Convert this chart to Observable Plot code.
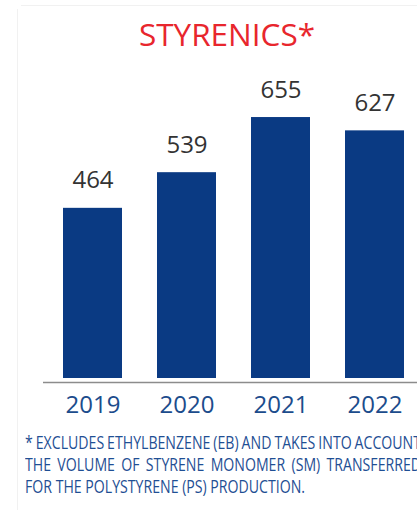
<!DOCTYPE html>
<html>
<head>
<meta charset="utf-8">
<script src="https://cdn.jsdelivr.net/npm/d3@7"></script>
<script src="https://cdn.jsdelivr.net/npm/@observablehq/plot@0.6"></script>
<style>
  html, body { margin: 0; padding: 0; background: #fff; }
  #wrap { position: relative; width: 417px; height: 510px; overflow: hidden; font-family: "Open Sans", sans-serif; }
  #bl { position: absolute; left: 17px; top: 9px; width: 1px; height: 501px; background: #f1f1f1; }
  #bt { position: absolute; left: 21px; top: 5px; width: 396px; height: 1px; background: #f1f1f1; }
  #title { position: absolute; left: 0; width: 454px; top: 18px; text-align: center; font-size: 31.5px; line-height: 1; color: #e8262d; white-space: nowrap; }
  #chart { position: absolute; left: 0; top: 0; }
  #note { position: absolute; left: 25px; top: 431px; font-size: 17.5px; line-height: 22px; color: #1f4f94; transform-origin: 0 0; }
  #note div { white-space: nowrap; }
  #note span { white-space: nowrap; display: inline-block; }
</style>
</head>
<body>
<div id="wrap">
  <div id="bl"></div><div id="bt"></div>
  <div id="chart"></div>
  <div id="title"></div>
  <div id="note"></div>
</div>
<script>
const title = "STYRENICS*";
const years = ["2019", "2020", "2021", "2022"];
const values = [464, 539, 655, 627];
const noteLines = [
  "* EXCLUDES ETHYLBENZENE (EB) AND TAKES INTO ACCOUNT",
  "THE VOLUME OF STYRENE MONOMER (SM) TRANSFERRED",
  "FOR THE POLYSTYRENE (PS) PRODUCTION."
];
const yBase = 106;
const yTop = 775;

const data = years.map((year, i) => ({year, value: values[i]}));

document.getElementById("title").textContent = title;

const chart = Plot.plot({
  width: 417,
  height: 420,
  marginTop: 60,
  marginBottom: 42,
  marginLeft: 43,
  marginRight: 0,
  style: {fontFamily: "'Open Sans', sans-serif", background: "transparent"},
  x: {domain: years, paddingInner: 0.374, paddingOuter: 0.17, align: 0.594, label: null},
  y: {domain: [yBase, yTop], axis: null},
  marks: [
    Plot.barY(data, {x: "year", y1: yBase, y2: "value", fill: "#0a3a83"}),
    Plot.ruleY([yBase], {dy: 4, stroke: "#8c8c8c", strokeWidth: 1.5}),
    Plot.text(data, {x: "year", y: "value", text: d => String(d.value), dy: -20, lineAnchor: "bottom", fontSize: 24, fill: "#333333"}),
    Plot.axisX({tickSize: 0, tickPadding: 17, fontSize: 24, fill: "#1c4c8c", label: null})
  ]
});
document.getElementById("chart").appendChild(chart);

// footnote: common horizontal scale, lines 1-2 justified via word-spacing
const note = document.getElementById("note");
const spans = noteLines.map(t => {
  const div = document.createElement("div");
  const span = document.createElement("span");
  span.textContent = t;
  div.appendChild(span);
  note.appendChild(div);
  return span;
});
const w3 = spans[2].getBoundingClientRect().width;
const scale = 280 / w3;
note.style.transform = `scaleX(${scale})`;
const target = 396 / scale;
spans.slice(0, 2).forEach(span => {
  const w = span.getBoundingClientRect().width / scale;
  const gaps = (span.textContent.match(/ /g) || []).length;
  span.style.wordSpacing = ((target - w) / gaps) + "px";
});
</script>
</body>
</html>
